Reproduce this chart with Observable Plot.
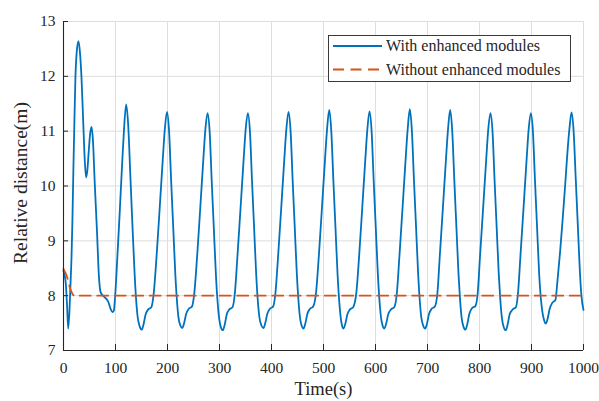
<!DOCTYPE html>
<html><head><meta charset="utf-8">
<script src="https://cdn.jsdelivr.net/npm/d3@7"></script>
<script src="https://cdn.jsdelivr.net/npm/@observablehq/plot@0.6"></script>
<style>
html,body{margin:0;padding:0;background:#fff;}
#chart{width:599px;height:401px;}
</style></head><body><div id="chart"></div>
<script>
// [time (s), relative distance (m)]
const withEnhanced = [
[0,8.46],[2,8.38],[4.4,8.22],[7,7.79],[9,7.40],[11.5,7.73],[13.5,8.22],[15.4,8.7],[17,9.3],[19,10.3],[21,11.2],[23,12.0],[25.5,12.45],[28.8,12.64],[31.5,12.45],[34.5,12.0],[38,11.15],[41,10.45],[43.5,10.16],[46,10.3],[48,10.56],[51.3,10.96],[54,11.08],[56.5,10.85],[60,10.07],[64.5,9.15],[68,8.37],[71.5,8.06],[77,7.99],[81.5,7.95],[86.5,7.88],[90.5,7.76],[94.3,7.70],[96.9,7.73],[99.4,8.0],
[103,8.6],[108,9.5],[113,10.45],[116.5,11.05],[120.5,11.49],[124.5,11.1],[128.5,10.2],[132.5,9.3],[136.5,8.45],[139.5,7.95],[142.5,7.62],[146.5,7.44],[150.6,7.38],[154,7.48],[158,7.66],[163,7.75],[169,7.79],[173.5,8.04],
[179,8.72],[185,9.6],[191,10.5],[195,11.05],[199,11.35],[203,11.0],[207,10.1],[211,9.25],[215,8.4],[218,7.93],[221,7.61],[224.5,7.46],[228.5,7.41],[232,7.5],[236,7.67],[241,7.76],[247,7.8],[251.5,8.04],
[257,8.72],[263,9.6],[269,10.5],[273,11.05],[277,11.33],[281,11.0],[285,10.1],[289,9.25],[293,8.4],[296,7.93],[299,7.61],[302.5,7.43],[306.4,7.37],[310,7.47],[314,7.66],[319,7.75],[325,7.79],[329.5,8.04],
[334.5,8.72],[340.5,9.6],[346.5,10.5],[350.5,11.05],[354.5,11.33],[358.5,11.0],[362.5,10.1],[366.5,9.25],[370.5,8.4],[373.5,7.93],[376.5,7.62],[380.5,7.46],[384.6,7.41],[388,7.5],[392,7.67],[397,7.76],[403,7.8],[407.5,8.04],
[412.7,8.72],[418.7,9.6],[424.7,10.5],[428.7,11.05],[432.7,11.35],[436.7,11.0],[440.7,10.1],[444.7,9.25],[448.7,8.4],[451.7,7.93],[454.7,7.61],[458,7.45],[461.5,7.40],[465,7.49],[469,7.67],[474,7.76],[480,7.8],[485.5,8.04],
[491,8.72],[497,9.6],[503,10.5],[507,11.05],[511,11.39],[515,11.0],[519,10.1],[523,9.25],[527,8.4],[530,7.93],[533,7.61],[535.5,7.46],[538.5,7.40],[542,7.49],[546,7.66],[551,7.75],[557,7.79],[563,8.04],
[568.5,8.72],[574.5,9.6],[580.5,10.5],[584.5,11.05],[588.5,11.36],[592.5,11.0],[596.5,10.1],[600.5,9.25],[604.5,8.4],[607.5,7.93],[610.5,7.61],[613.5,7.46],[617,7.40],[620.5,7.49],[624.5,7.66],[630,7.75],[636,7.79],[641,8.04],
[646,8.72],[652,9.6],[658,10.5],[662,11.05],[666,11.40],[670,11.0],[674,10.1],[678,9.25],[682,8.4],[685,7.93],[688,7.61],[691.5,7.46],[695.5,7.40],[699,7.49],[703,7.67],[708,7.76],[714,7.8],[719,8.04],
[723.6,8.72],[729.6,9.6],[735.6,10.5],[739.6,11.05],[743.6,11.39],[747.6,11.0],[751.6,10.1],[755.6,9.25],[759.6,8.4],[762.6,7.93],[765.6,7.6],[769,7.44],[773,7.38],[776.5,7.48],[780.5,7.67],[785.5,7.77],[792,7.81],[796.5,8.04],
[801,8.72],[807,9.6],[813,10.5],[817,11.05],[821,11.33],[825,11.0],[829,10.1],[833,9.25],[837,8.4],[840,7.93],[843,7.6],[846.5,7.43],[850.6,7.37],[854,7.47],[858,7.66],[864,7.75],[870,7.79],[874,8.04],
[878.7,8.72],[884.7,9.6],[890.7,10.5],[894.7,11.05],[898.7,11.33],[902.7,11.0],[906.7,10.1],[910.7,9.25],[914.7,8.4],[917.7,7.98],[920.7,7.72],[924,7.56],[927.6,7.49],[931,7.58],[935,7.76],[940,7.87],[946,7.92],[950,8.28],
[955,8.8],[960,9.4],[965,10.05],[969,10.6],[973,11.05],[977,11.34],[981,11.0],[985,10.15],[989,9.3],[993,8.45],[996,8.0],[1000,7.74]
];
const withoutEnhanced = [
[0,8.49],[3,8.43],[5.8,8.37],[9,8.27],[12.2,8.15],[14.5,8.09],[16.7,8.04],[19,8.01],[22,7.99],[26,7.99],[30,8.0],[1000,8.0]
];
const seriesNames = ["With enhanced modules", "Without enhanced modules"];
const seriesColors = ["#0072BD", "#D95319"];
const xTicks = [0,100,200,300,400,500,600,700,800,900,1000];
const yTicks = [7,8,9,10,11,12,13];
const xLabel = "Time(s)";
const yLabel = "Relative distance(m)";

const W = 599, H = 401, mL = 63, mR = 16, mT = 21, mB = 51;
const FONT = "'Liberation Serif', 'DejaVu Serif', serif";
const ink = "#262626";

const rowsWith = withEnhanced.map(([t, v]) => ({t, v}));
const rowsWithout = withoutEnhanced.map(([t, v]) => ({t, v}));

const plot = Plot.plot({
  width: W, height: H,
  marginLeft: mL, marginRight: mR, marginTop: mT, marginBottom: mB,
  style: {fontFamily: FONT, fontSize: "15.5px", color: ink, background: "#fff", overflow: "visible"},
  x: {domain: [0, 1000]},
  y: {domain: [7, 13]},
  marks: [
    Plot.gridX(xTicks, {stroke: "#dedede", strokeOpacity: 1}),
    Plot.gridY(yTicks, {stroke: "#dedede", strokeOpacity: 1}),
    Plot.line(rowsWith, {x: "t", y: "v", stroke: seriesColors[0], strokeWidth: 1.8, curve: "monotone-x"}),
    Plot.line(rowsWithout, {x: "t", y: "v", stroke: seriesColors[1], strokeWidth: 1.8, strokeDasharray: "11,6.5", curve: "monotone-x"}),
    Plot.ruleX([0], {stroke: ink, strokeWidth: 1.1}),
    Plot.ruleY([7], {stroke: ink, strokeWidth: 1.1}),
    Plot.tickX(xTicks, {x: d => d, stroke: ink, insetTop: (H - mT - mB) - 6}),
    Plot.tickY(yTicks, {y: d => d, stroke: ink, insetRight: (W - mL - mR) - 5}),
    Plot.axisX(xTicks, {tickSize: 0, tickPadding: 11, label: null, fill: ink, tickFormat: d => String(d)}),
    Plot.axisY(yTicks, {tickSize: 0, tickPadding: 8, label: null, fill: ink, tickFormat: d => String(d)}),
    Plot.text([xLabel], {text: d => d, frameAnchor: "bottom", lineAnchor: "middle", textAnchor: "middle", dy: 39, fontSize: 18.5, fill: ink}),
    Plot.text([yLabel], {text: d => d, frameAnchor: "left", lineAnchor: "middle", textAnchor: "middle", dx: -43, dy: -3, rotate: -90, fontSize: 19.5, fill: ink})
  ]
});

// Legend (inside the plot area, top right)
const svg = d3.select(plot);
const lg = svg.append("g").attr("font-family", FONT).attr("font-size", 16).attr("text-anchor", "start");
lg.append("rect").attr("x", 328.5).attr("y", 35.5).attr("width", 242).attr("height", 46)
  .attr("fill", "#fff").attr("stroke", ink).attr("stroke-width", 0.9);
const rowY = [46, 69.5];
seriesNames.forEach((name, i) => {
  lg.append("line").attr("x1", 333).attr("x2", 382).attr("y1", rowY[i]).attr("y2", rowY[i])
    .attr("stroke", seriesColors[i]).attr("stroke-width", 1.8)
    .attr("stroke-dasharray", i === 1 ? "11,6.5" : null);
  lg.append("text").attr("x", 386).attr("y", rowY[i]).attr("dy", "0.33em")
    .attr("text-anchor", "start").attr("fill", ink).text(name);
});

document.getElementById("chart").appendChild(plot);
</script>
</body></html>
